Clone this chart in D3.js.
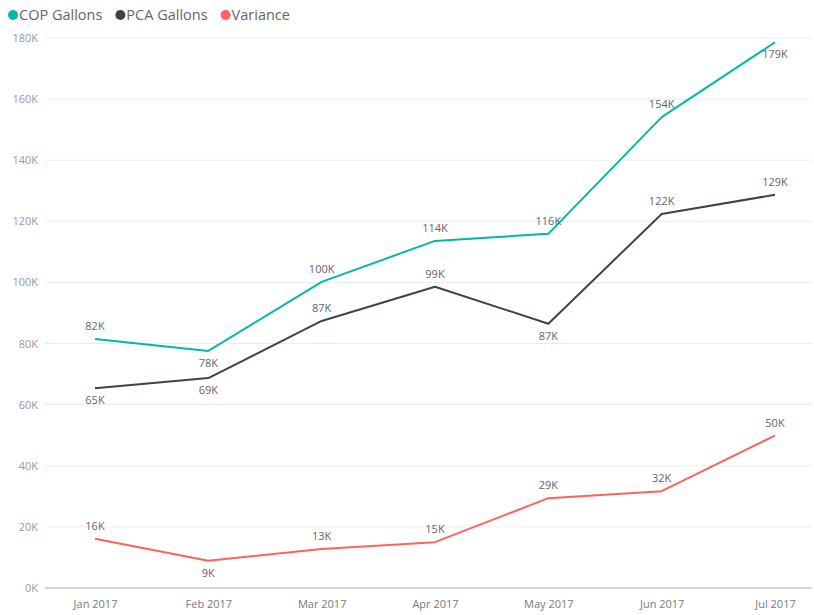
<!DOCTYPE html>
<html><head><meta charset="utf-8">
<script src="https://cdn.jsdelivr.net/npm/d3@7"></script>
<style>body{margin:0;background:#fff;font-family:"Open Sans","Segoe UI",sans-serif}</style>
</head><body><svg id="c" width="814" height="615"></svg>
<script>
const months = ["Jan 2017","Feb 2017","Mar 2017","Apr 2017","May 2017","Jun 2017","Jul 2017"];
const copGallons = [81.5, 77.6, 100.2, 113.6, 115.9, 154.1, 178.6];
const pcaGallons = [65.4, 68.7, 87.4, 98.6, 86.5, 122.4, 128.7];
const variance   = [16.1, 8.9, 12.8, 15.0, 29.4, 31.7, 49.9];
const yTicks = [0,20,40,60,80,100,120,140,160,180];
const seriesNames = ["COP Gallons","PCA Gallons","Variance"];
const colors = ["#01B8AA","#374649","#FD625E"];
// label placement: true = below point
const copBelow = [false,true,false,false,false,false,true];
const pcaBelow = [true,true,false,false,true,false,false];
const varBelow = [false,true,false,false,false,false,false];

const svg = d3.select("#c");
const x = d3.scalePoint().domain(months).range([95,775]);
const y = d3.scaleLinear().domain([0,180]).range([588,38]);

// gridlines
svg.append("g").selectAll("line").data(yTicks.filter(d=>d>0)).join("line")
  .attr("x1",45).attr("x2",812).attr("y1",d=>y(d)).attr("y2",d=>y(d))
  .attr("stroke","#ececec").attr("stroke-width",1);
// baseline
svg.append("line").attr("x1",45).attr("x2",812).attr("y1",y(0)).attr("y2",y(0))
  .attr("stroke","#c8c8c8").attr("stroke-width",1.5);

// y axis
const ya = svg.append("g").attr("transform","translate(38,0)")
  .call(d3.axisLeft(y).tickValues(yTicks).tickSize(0).tickPadding(0).tickFormat(d=>d+"K"));
ya.select(".domain").remove();
ya.selectAll("text").attr("fill","#9a9a9a").style("font-size","11px").style("font-family","'Open Sans',sans-serif");

// x axis
const xa = svg.append("g").attr("transform","translate(0,600)")
  .call(d3.axisBottom(x).tickSize(0).tickPadding(0));
xa.select(".domain").remove();
xa.selectAll("text").attr("fill","#7a7a7a").attr("dy","0.75em").style("font-size","11px").style("font-family","'Open Sans',sans-serif");

const series = [
  {vals: copGallons, below: copBelow, color: colors[0]},
  {vals: pcaGallons, below: pcaBelow, color: colors[1]},
  {vals: variance, below: varBelow, color: colors[2]}
];
const line = d3.line().x((d,i)=>x(months[i])).y(d=>y(d));
series.forEach(s=>{
  svg.append("path").datum(s.vals).attr("d",line).attr("fill","none")
    .attr("stroke",s.color).attr("stroke-width",2).attr("stroke-linejoin","round");
});
series.forEach(s=>{
  svg.append("g").selectAll("text").data(s.vals).join("text")
    .attr("x",(d,i)=>x(months[i])).attr("y",(d,i)=>y(d)+(s.below[i]?16:-9))
    .attr("text-anchor","middle").attr("fill","#666")
    .style("font-size","11px").style("font-family","'Open Sans',sans-serif")
    .text(d=>Math.round(d)+"K");
});

// legend
const lg = svg.append("g");
let lx = 13;
seriesNames.forEach((n,i)=>{
  lg.append("circle").attr("cx",lx).attr("cy",15).attr("r",5).attr("fill",colors[i]);
  const t = lg.append("text").attr("x",lx+6).attr("y",20).attr("fill","#666")
    .style("font-size","14.5px").style("font-family","'Open Sans',sans-serif").text(n);
  lx += 6 + t.node().getComputedTextLength() + 18;
});
</script></body></html>
